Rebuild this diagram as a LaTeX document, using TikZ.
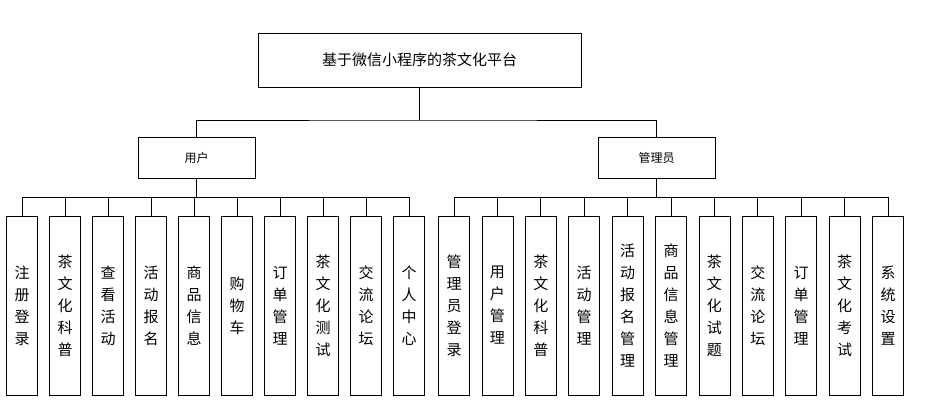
\documentclass[tikz,border=0pt]{standalone}
\usepackage{fontspec}
\setmainfont{Noto Sans CJK SC}
\begin{document}
\begin{tikzpicture}[x=1pt,y=-1pt,
 box/.style={draw,line width=0.8pt,inner sep=0pt},
 leaf/.style={box,minimum width=31pt,minimum height=179pt,align=center,font=\fontsize{15}{22}\selectfont},
 ln/.style={line width=0.8pt}]
\useasboundingbox[fill=white] (0,0) rectangle (933,408);
\node[box,minimum width=323pt,minimum height=54pt,font=\fontsize{15}{18}\selectfont] (root) at (419.5,60) {基于微信小程序的茶文化平台};
\node[box,minimum width=117pt,minimum height=41pt,font=\fontsize{12}{14}\selectfont] (u) at (196.5,157.5) {用户};
\node[box,minimum width=117pt,minimum height=41pt,font=\fontsize{12}{14}\selectfont] (a) at (656.5,157.5) {管理员};
\draw[ln] (root.south) -- (419.5,120) coordinate (m);
\draw[ln] (u.north) |- (m) -| (a.north);
\foreach \t [count=\i] in {注\\册\\登\\录,茶\\文\\化\\科\\普,查\\看\\活\\动,活\\动\\报\\名,商\\品\\信\\息,购\\物\\车,订\\单\\管\\理,茶\\文\\化\\测\\试,交\\流\\论\\坛,个\\人\\中\\心}{
 \node[leaf] (u\i) at ({22+43*(\i-1)},305.5) {\t};
 \draw[ln] (u.south) |- (u\i|-0,197) -- (u\i.north);
}
\foreach \t [count=\i] in {管\\理\\员\\登\\录,用\\户\\管\\理,茶\\文\\化\\科\\普,活\\动\\管\\理,活\\动\\报\\名\\管\\理,商\\品\\信\\息\\管\\理,茶\\文\\化\\试\\题,交\\流\\论\\坛,订\\单\\管\\理,茶\\文\\化\\考\\试,系\\统\\设\\置}{
 \node[leaf] (a\i) at ({454+43.4*(\i-1)},305.5) {\t};
 \draw[ln] (a.south) |- (a\i|-0,197) -- (a\i.north);
}
\end{tikzpicture}
\end{document}
